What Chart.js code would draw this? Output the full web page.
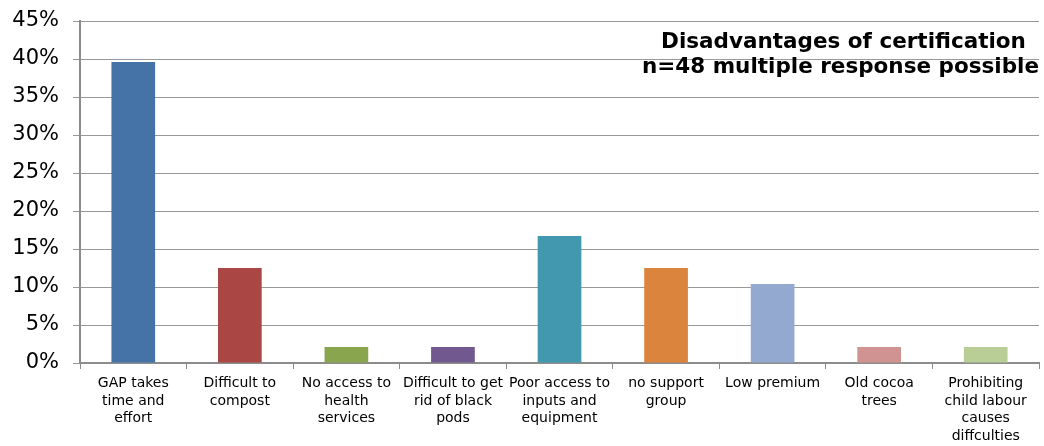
<!DOCTYPE html>
<html><head><meta charset="utf-8">
<script src="https://cdn.jsdelivr.net/npm/chart.js@4/dist/chart.umd.min.js"></script>
<style>html,body{margin:0;padding:0;background:#fff}#wrap{width:1044px;height:446px}</style>
</head><body><div id="wrap"><canvas id="c"></canvas></div>
<script>
const categories = [
  ["GAP takes","time and","effort"],
  ["Difficult to","compost"],
  ["No access to","health","services"],
  ["Difficult to get","rid of black","pods"],
  ["Poor access to","inputs and","equipment"],
  ["no support","group"],
  ["Low premium"],
  ["Old cocoa","trees"],
  ["Prohibiting","child labour","causes","diffculties"]
];
const values = [39.6, 12.5, 2.1, 2.1, 16.7, 12.5, 10.4, 2.1, 2.1];
const colors = ["#4572A7","#AA4643","#89A54E","#71588F","#4198AF","#DB843D","#93A9CF","#D19392","#B9CD96"];
const titleLines = ["Disadvantages of certification","n=48 multiple response possible"];

const titlePlugin = {
  id: 'inTitle',
  afterDraw(chart) {
    const ctx = chart.ctx;
    ctx.save();
    ctx.font = 'bold 21.5px "DejaVu Sans", Verdana, sans-serif';
    ctx.fillStyle = '#000';
    ctx.textBaseline = 'middle';
    ctx.textAlign = 'center';
    const w2 = ctx.measureText(titleLines[1]).width;
    const cx = 1039 - w2 / 2;
    ctx.fillText(titleLines[0], cx + 3, 42);
    ctx.fillText(titleLines[1], cx, 67);
    ctx.restore();
  }
};

new Chart(document.getElementById('c'), {
  type: 'bar',
  data: {
    labels: categories,
    datasets: [{ data: values, backgroundColor: colors, barPercentage: 0.41, categoryPercentage: 1.0 }]
  },
  options: {
    responsive: true, maintainAspectRatio: false, animation: false,
    layout: { padding: { top: 21, right: 5, left: 0, bottom: 0 } },
    plugins: { legend: { display: false }, tooltip: { enabled: false } },
    scales: {
      y: {
        min: 0, max: 45,
        ticks: { stepSize: 5, callback: v => v + '%', color: '#000', font: { family: '"DejaVu Sans", Verdana, sans-serif', size: 21 }, padding: 14 },
        grid: { color: '#999999', lineWidth: 1, tickLength: 7, drawTicks: true },
        border: { color: '#8c8c8c', width: 2 },
        afterFit(s) { s.width = 80; s.paddingTop = 0; s.paddingBottom = 0; }
      },
      x: {
        ticks: { color: '#000', font: { family: '"DejaVu Sans", Verdana, sans-serif', size: 14, lineHeight: 1.25 }, maxRotation: 0, autoSkip: false, padding: 6 },
        grid: { drawOnChartArea: false, color: '#8c8c8c', tickLength: 6, offset: true },
        border: { color: '#8c8c8c', width: 2 },
        afterFit(s) { s.height = 83; }
      }
    }
  },
  plugins: [titlePlugin]
});
</script></body></html>
